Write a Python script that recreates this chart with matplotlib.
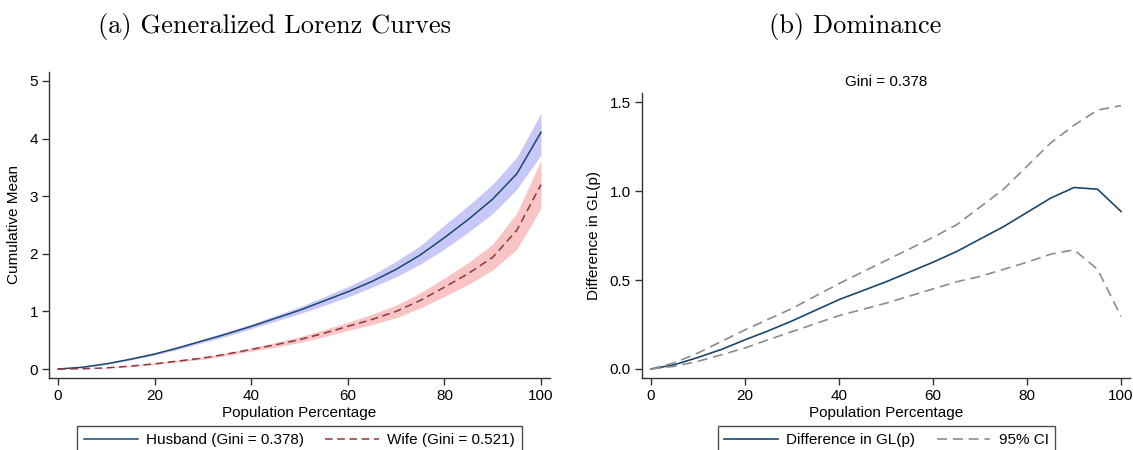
import matplotlib
matplotlib.use("Agg")
import matplotlib.pyplot as plt

pop = [0, 5, 10, 15, 20, 25, 30, 35, 40, 45, 50, 55, 60, 65, 70, 75, 80, 85, 90, 95, 100]

husband = [0, 0.03, 0.09, 0.17, 0.26, 0.37, 0.49, 0.61, 0.74, 0.88, 1.02, 1.18, 1.34,
           1.52, 1.73, 1.98, 2.28, 2.60, 2.95, 3.39, 4.11]
husband_hi = [0, 0.035, 0.10, 0.185, 0.28, 0.395, 0.52, 0.65, 0.78, 0.93, 1.08, 1.25, 1.43,
              1.63, 1.87, 2.14, 2.50, 2.84, 3.21, 3.68, 4.44]
husband_lo = [0, 0.025, 0.08, 0.155, 0.24, 0.345, 0.46, 0.57, 0.70, 0.83, 0.96, 1.10, 1.25,
              1.42, 1.60, 1.82, 2.08, 2.38, 2.70, 3.12, 3.72]

wife = [0, 0.005, 0.02, 0.05, 0.09, 0.14, 0.19, 0.26, 0.34, 0.42, 0.51, 0.62, 0.74,
        0.86, 1.00, 1.19, 1.42, 1.66, 1.94, 2.41, 3.20]
wife_hi = [0, 0.007, 0.025, 0.06, 0.10, 0.155, 0.21, 0.285, 0.37, 0.46, 0.56, 0.68, 0.81,
           0.95, 1.11, 1.32, 1.58, 1.85, 2.17, 2.71, 3.62]
wife_lo = [0, 0.003, 0.015, 0.04, 0.08, 0.125, 0.17, 0.235, 0.31, 0.38, 0.46, 0.56, 0.67,
           0.77, 0.89, 1.06, 1.26, 1.47, 1.72, 2.08, 2.79]

diff = [0, 0.024, 0.065, 0.11, 0.164, 0.215, 0.27, 0.33, 0.39, 0.44, 0.49, 0.545, 0.60,
        0.66, 0.73, 0.80, 0.88, 0.96, 1.02, 1.01, 0.885]
diff_hi = [0, 0.035, 0.09, 0.155, 0.22, 0.28, 0.34, 0.41, 0.48, 0.545, 0.61, 0.675, 0.74,
           0.81, 0.91, 1.01, 1.14, 1.27, 1.37, 1.455, 1.48]
diff_lo = [0, 0.015, 0.043, 0.08, 0.118, 0.165, 0.21, 0.255, 0.30, 0.335, 0.37, 0.41, 0.45,
           0.49, 0.52, 0.56, 0.60, 0.645, 0.67, 0.56, 0.295]

left_yticks = [0, 1, 2, 3, 4, 5]
right_yticks = [0.0, 0.5, 1.0, 1.5]
xticks = [0, 20, 40, 60, 80, 100]

W, H = 1133, 450
plt.rcParams['font.family'] = ['Liberation Sans', 'DejaVu Sans']
fig = plt.figure(figsize=(W / 100, H / 100), dpi=100)

NAVY = '#1a476f'
MAROON = '#90353b'
GRAY = '#8c8c8c'
FS = 11


def px_axes(l, r, t, b):
    return fig.add_axes([l / W, 1 - b / H, (r - l) / W, (b - t) / H])


def style(ax):
    for s in ['top', 'right']:
        ax.spines[s].set_visible(False)
    for s in ['left', 'bottom']:
        ax.spines[s].set_color('#333333')
        ax.spines[s].set_linewidth(1.0)
    ax.tick_params(direction='out', length=5, width=1, color='#333333', labelsize=FS, pad=3)
    ax.set_xticks(xticks)
    ax.set_xlabel('Population Percentage', fontsize=FS, labelpad=2)


leg_kw = dict(ncol=2, fontsize=FS, frameon=True, fancybox=False, edgecolor='#222222',
              handlelength=3.5, handletextpad=0.55, columnspacing=1.4, borderpad=0.45,
              borderaxespad=0)

# Left panel
ax1 = px_axes(49, 550, 72, 378)
ax1.fill_between(pop, husband_lo, husband_hi, color='#c8c8f8', lw=0)
ax1.fill_between(pop, wife_lo, wife_hi, color='#f8c4c4', lw=0)
l1, = ax1.plot(pop, husband, color=NAVY, lw=1.1, label='Husband (Gini = 0.378)')
l2, = ax1.plot(pop, wife, color=MAROON, lw=1.1, ls=(0, (5, 3)), label='Wife (Gini = 0.521)')
ax1.set_xlim(-1.86, 101.86)
ax1.set_ylim(-0.156, 5.156)
ax1.set_yticks(left_yticks)
ax1.set_ylabel('Cumulative Mean', fontsize=FS, labelpad=6)
style(ax1)
leg1 = fig.legend(handles=[l1, l2], loc='upper center', bbox_to_anchor=(299.5 / W, 1 - 426 / H),
                  **leg_kw)
leg1.get_frame().set_linewidth(1.0)

# Right panel
ax2 = px_axes(642, 1130, 93, 378)
c1, = ax2.plot(pop, diff, color=NAVY, lw=1.2, label='Difference in GL(p)')
c2, = ax2.plot(pop, diff_hi, color=GRAY, lw=1.2, ls=(0, (6, 3.5)), label='95% CI')
ax2.plot(pop, diff_lo, color=GRAY, lw=1.2, ls=(0, (6, 3.5)))
ax2.set_xlim(-1.91, 101.9)
ax2.set_ylim(-0.0506, 1.551)
ax2.set_yticks(right_yticks)
ax2.set_yticklabels(['0.0', '0.5', '1.0', '1.5'])
ax2.set_ylabel('Difference in GL(p)', fontsize=FS, labelpad=6)
ax2.set_title('Gini = 0.378', fontsize=FS, pad=5)
style(ax2)
leg2 = fig.legend(handles=[c1, c2], loc='upper center', bbox_to_anchor=(886.5 / W, 1 - 426 / H),
                  **leg_kw)
leg2.get_frame().set_linewidth(1.0)

fig.text(275 / W, 1 - 27 / H, '(a) Generalized Lorenz Curves', fontname='cmr10', fontsize=19,
         ha='center', va='center')
fig.text(855 / W, 1 - 27 / H, '(b) Dominance', fontname='cmr10', fontsize=19,
         ha='center', va='center')

fig.savefig('out.png', dpi=100)
